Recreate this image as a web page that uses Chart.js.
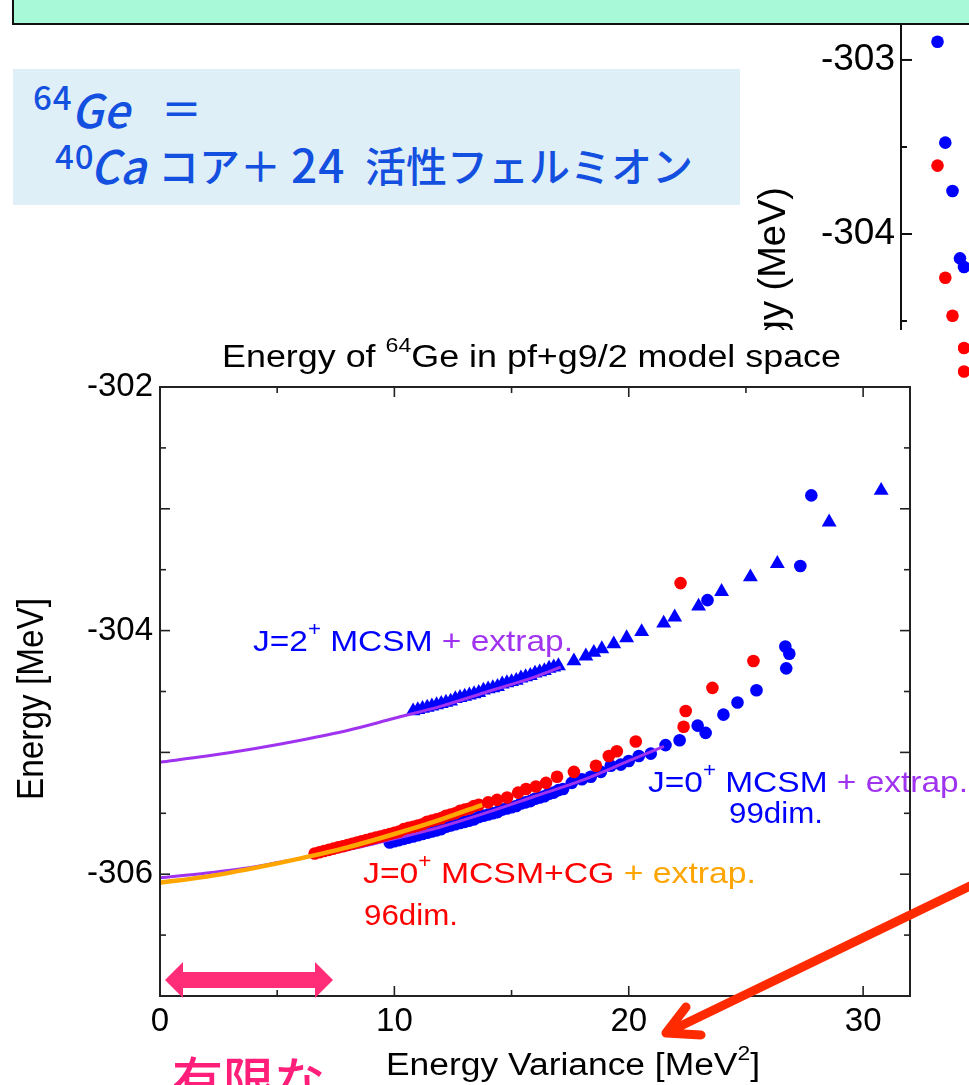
<!DOCTYPE html>
<html lang="ja">
<head>
<meta charset="utf-8">
<title>Energy of 64Ge in pf+g9/2 model space</title>
<script src="https://cdn.jsdelivr.net/npm/chart.js@4.4.1/dist/chart.umd.min.js"></script>
<style>
  html, body { margin: 0; padding: 0; width: 969px; height: 1085px; overflow: hidden; background: #fff; }
  #page { position: relative; width: 969px; height: 1085px; overflow: hidden; background: #fff; }
  #banner { position: absolute; left: 12px; top: -40px; width: 1000px; height: 61px;
            background: #a7f9d7; border: 2px solid #111; z-index: 5; }
  #note { position: absolute; left: 13px; top: 69px; width: 727px; height: 136px;
          background: #dfeff7; z-index: 4; }
  .nt { position: absolute; color: #1450e0; line-height: 1; white-space: nowrap; z-index: 6;
        font-family: 'Noto Sans CJK JP', 'Noto Sans', sans-serif; font-weight: 500; }
  .it { font-style: italic; }
  #bgChart { position: absolute; left: 740px; top: -40px; z-index: 1; }
  #mainChart { position: absolute; left: 0; top: 330px; z-index: 2; }
</style>
</head>
<body>
<div id="page">
  <div id="banner"></div>
  <div id="note"></div>
  <span class="nt" style="left:33px; top:80px; font-size:33px; letter-spacing:1px;">64</span>
  <span class="nt it" style="left:71px; top:85px; font-size:46px;">Ge</span>
  <span class="nt" style="left:161px; top:87px; font-size:41px;">＝</span>
  <span class="nt" style="left:55px; top:139px; font-size:33px; letter-spacing:1px;">40</span>
  <span class="nt it" style="left:90px; top:141px; font-size:46px;">Ca</span>
  <span class="nt" style="left:158px; top:144px; font-size:41px;">コア＋</span>
  <span class="nt" style="left:291px; top:140px; font-size:46px; letter-spacing:1px;">24</span>
  <span class="nt" style="left:365px; top:144px; font-size:41px;">活性フェルミオン</span>
  <canvas id="bgChart" width="260" height="700"></canvas>
  <canvas id="mainChart" width="969" height="755"></canvas>
</div>
<script>
// ---------- data: 64Ge energies vs. energy variance ----------
// J=2+ MCSM (triangles): [variance MeV^2, energy MeV]
const j2Mcsm = [
  [10.8,-304.66],[11.0,-304.65],[11.2,-304.64],[11.4,-304.63],[11.6,-304.62],[11.8,-304.61],
  [12.0,-304.60],[12.2,-304.59],[12.4,-304.58],[12.6,-304.56],[12.8,-304.55],[13.0,-304.54],
  [13.2,-304.53],[13.4,-304.52],[13.6,-304.51],[13.8,-304.49],[14.0,-304.48],[14.2,-304.47],
  [14.4,-304.46],[14.6,-304.44],[14.8,-304.43],[15.0,-304.42],[15.2,-304.41],[15.4,-304.39],
  [15.6,-304.38],[15.8,-304.37],[16.0,-304.35],[16.2,-304.34],[16.4,-304.33],[16.6,-304.31],
  [16.8,-304.30],[17.0,-304.29],[17.66,-304.25],[18.17,-304.21],[18.51,-304.18],[18.85,-304.15],
  [19.36,-304.11],[19.91,-304.06],[20.55,-304.01],[21.49,-303.94],[21.96,-303.89],[22.98,-303.80],
  [23.96,-303.68],[25.19,-303.56],[26.34,-303.45],[28.55,-303.11],[30.77,-302.85]
];
// J=2+ MCSM runs drawn with circles
const j2McsmRuns = [[23.36,-303.75],[27.32,-303.47],[27.79,-302.89]];
// J=0+ MCSM, 99 dim.
const j0Mcsm = [
  [9.8,-305.74],[10.0,-305.73],[10.2,-305.72],[10.4,-305.71],[10.6,-305.70],[10.8,-305.69],
  [11.0,-305.68],[11.2,-305.67],[11.4,-305.66],[11.6,-305.65],[11.8,-305.64],[12.0,-305.63],
  [12.2,-305.61],[12.4,-305.60],[12.6,-305.59],[12.8,-305.58],[13.0,-305.57],[13.2,-305.56],
  [13.4,-305.55],[13.6,-305.53],[13.8,-305.52],[14.0,-305.51],[14.2,-305.50],[14.4,-305.49],
  [14.6,-305.47],[14.8,-305.46],[15.0,-305.45],[15.2,-305.44],[15.4,-305.42],[15.6,-305.41],
  [15.8,-305.40],[16.0,-305.38],[16.2,-305.37],[16.4,-305.36],[16.6,-305.34],[16.8,-305.33],
  [17.0,-305.31],[17.2,-305.30],[17.57,-305.25],[18.0,-305.22],[18.38,-305.20],[18.81,-305.16],
  [19.23,-305.11],[19.66,-305.10],[20.0,-305.07],[20.43,-305.03],[20.94,-305.01],[21.57,-304.94],
  [22.17,-304.90],[22.94,-304.78],[23.28,-304.84],[24.04,-304.69],[24.64,-304.59],[25.45,-304.49],
  [26.72,-304.31],[26.68,-304.13],[26.85,-304.19]
];
// J=0+ MCSM+CG, 96 dim.
const j0McsmCg = [
  [6.6,-305.83],[6.8,-305.82],[7.0,-305.81],[7.2,-305.80],[7.4,-305.79],[7.6,-305.78],
  [7.8,-305.77],[8.0,-305.76],[8.2,-305.75],[8.4,-305.74],[8.6,-305.73],[8.8,-305.72],
  [9.0,-305.71],[9.2,-305.70],[9.4,-305.69],[9.6,-305.68],[9.8,-305.67],[10.0,-305.66],
  [10.2,-305.65],[10.4,-305.63],[10.6,-305.62],[10.8,-305.61],[11.0,-305.60],[11.2,-305.59],
  [11.4,-305.57],[11.6,-305.56],[11.8,-305.55],[12.0,-305.54],[12.2,-305.52],[12.4,-305.51],
  [12.6,-305.50],[12.8,-305.48],[13.0,-305.47],[13.2,-305.46],[13.4,-305.44],[13.6,-305.43],
  [14.0,-305.41],[14.38,-305.39],[14.81,-305.37],[15.28,-305.33],[15.62,-305.30],[16.04,-305.28],
  [16.47,-305.25],[16.94,-305.20],[17.66,-305.16],[18.60,-305.11],[19.15,-305.03],[19.49,-304.99],
  [20.30,-304.91],[22.34,-304.79],[22.43,-304.66],[23.57,-304.47],[25.32,-304.25],[22.21,-303.61]
];
// extrapolation curves towards zero variance
const j2Extrap = [[0,-305.08],[2,-305.03],[4,-304.97],[6,-304.90],[8,-304.82],[10,-304.72],
                  [12,-304.62],[14,-304.50],[16,-304.38],[17.1,-304.30]];
const j0Extrap = [[0,-306.03],[2,-305.99],[4,-305.94],[6,-305.87],[8,-305.80],[10,-305.71],
                  [12,-305.61],[14,-305.49],[16,-305.36],[18,-305.23],[20,-305.07],[21.5,-304.95]];
const cgExtrap = [[0,-306.07],[2,-306.02],[4,-305.95],[6,-305.87],[8,-305.78],[10,-305.67],
                  [12,-305.55],[13.75,-305.43]];
// second panel (partly hidden behind the main one)
const sideBlue = [[3.9,-302.895],[4.73,-303.475],[5.5,-303.753],[6.3,-304.14],[6.73,-304.19]];
const sideRed  = [[3.9,-303.607],[4.73,-304.251],[5.5,-304.47],[6.73,-304.655],[6.73,-304.79]];
// axis ticks
const xTickStep = 5, xLabelEvery = 10;
const yTickStep = 0.5, yLabelEvery = 2;

// ---------- styling ----------
const FONT = "'Liberation Sans', Arial, Helvetica, sans-serif";
const BLUE = '#0000ff', RED = '#ff0000', PURPLE = '#a033f0', ORANGE = '#ffa500';
const DOT = 6.3, TRI = 8.6;
const toXY = arr => arr.map(([x, y]) => ({ x, y }));

// draws a run of coloured text pieces (with optional superscripts), fitted to a width
function drawRuns(ctx, runs, x, y, o) {
  const base = o.size + 'px ' + FONT;
  const sup = Math.round(o.size * 0.65) + 'px ' + FONT;
  let natural = 0;
  runs.forEach(r => { ctx.font = r.sup ? sup : base; natural += ctx.measureText(r.t).width; });
  const sx = o.width ? o.width / natural : 1;
  ctx.save();
  ctx.translate(x, y);
  if (o.rotate) ctx.rotate(o.rotate);
  ctx.scale(sx, o.sy || 1);
  ctx.textAlign = 'left';
  ctx.textBaseline = 'alphabetic';
  let cx = 0;
  runs.forEach(r => {
    ctx.font = r.sup ? sup : base;
    ctx.fillStyle = r.c || '#000';
    ctx.fillText(r.t, cx, r.sup ? -o.size * 0.5 : 0);
    cx += ctx.measureText(r.t).width;
  });
  ctx.restore();
}

function isMultiple(v, step) {
  const q = v / step;
  return Math.abs(q - Math.round(q)) < 1e-6;
}

// ---------- side panel ----------
const sideAxis = {
  id: 'sideAxis',
  afterDatasetsDraw(chart) {
    const { ctx, chartArea: a, scales: { y } } = chart;
    ctx.save();
    ctx.strokeStyle = '#111';
    ctx.lineWidth = 2;
    ctx.beginPath(); ctx.moveTo(a.left, a.top); ctx.lineTo(a.left, a.bottom); ctx.stroke();
    y.ticks.forEach(t => {
      const py = y.getPixelForValue(t.value);
      const len = isMultiple(t.value, 1) ? 11 : 6;
      ctx.beginPath(); ctx.moveTo(a.left, py); ctx.lineTo(a.left + len, py); ctx.stroke();
    });
    ctx.fillStyle = '#000';
    ctx.font = '38px ' + FONT;
    ctx.translate(45, 227);
    ctx.rotate(-Math.PI / 2);
    ctx.textAlign = 'right';
    ctx.textBaseline = 'alphabetic';
    ctx.fillText('Energy (MeV)', 0, 0);
    ctx.restore();
  }
};

new Chart(document.getElementById('bgChart'), {
  type: 'scatter',
  data: {
    datasets: [
      { data: toXY(sideBlue), backgroundColor: BLUE, borderWidth: 0, pointRadius: DOT },
      { data: toXY(sideRed), backgroundColor: RED, borderWidth: 0, pointRadius: DOT }
    ]
  },
  options: {
    responsive: false, animation: false, devicePixelRatio: 1,
    layout: { padding: { top: 30, bottom: 40, left: 0, right: 0 } },
    plugins: { legend: { display: false }, tooltip: { enabled: false } },
    scales: {
      x: { display: false, min: 0, max: 9.9 },
      y: {
        min: -306.218, max: -302.598,
        grid: { display: false, drawTicks: false }, border: { display: false },
        ticks: {
          stepSize: yTickStep, includeBounds: false, padding: 6, color: '#000',
          font: { family: FONT, size: 37 },
          callback: v => isMultiple(v, 1) ? String(v) : ''
        },
        afterFit: s => { s.width = 161; }
      }
    }
  },
  plugins: [sideAxis]
});

// ---------- main chart ----------
const whiteSheet = {
  id: 'whiteSheet',
  beforeDraw(chart) {
    const ctx = chart.ctx;
    ctx.save();
    ctx.fillStyle = '#fff';
    ctx.fillRect(0, 0, 958, chart.height);
    ctx.restore();
  }
};

const OY = 330; // canvas offset on the page
const labels = {
  id: 'labels',
  afterDatasetsDraw(chart) {
    const ctx = chart.ctx;
    drawRuns(ctx, [{ t: 'Energy of ' }, { t: '64', sup: true }, { t: 'Ge in pf+g9/2 model space' }],
      222, 367 - OY, { size: 31, width: 619 });
    drawRuns(ctx, [{ t: 'Energy Variance [MeV' }, { t: '2', sup: true }, { t: ']' }],
      386, 1075 - OY, { size: 31, width: 374 });
    drawRuns(ctx, [{ t: 'Energy [MeV]' }], 43, 800 - OY,
      { size: 33, width: 202, sy: 1.1, rotate: -Math.PI / 2 });

    drawRuns(ctx, [{ t: 'J=2', c: BLUE }, { t: '+', c: BLUE, sup: true }, { t: ' MCSM', c: BLUE },
                   { t: ' + extrap.', c: PURPLE }], 253, 651 - OY, { size: 30, width: 320 });
    drawRuns(ctx, [{ t: 'J=0', c: BLUE }, { t: '+', c: BLUE, sup: true }, { t: ' MCSM', c: BLUE },
                   { t: ' + extrap.', c: PURPLE }], 648, 792 - OY, { size: 30, width: 320 });
    drawRuns(ctx, [{ t: '99dim.', c: BLUE }], 729, 823 - OY, { size: 30, width: 94 });
    drawRuns(ctx, [{ t: 'J=0', c: RED }, { t: '+', c: RED, sup: true }, { t: ' MCSM+CG', c: RED },
                   { t: ' + extrap.', c: ORANGE }], 363, 883 - OY, { size: 30, width: 393 });
    drawRuns(ctx, [{ t: '96dim.', c: RED }], 364, 925 - OY, { size: 30, width: 94 });
  }
};

const frame = {
  id: 'frame',
  afterDatasetsDraw(chart) {
    const { ctx, chartArea: a, scales: { x, y } } = chart;
    const seg = (x1, y1, x2, y2) => { ctx.beginPath(); ctx.moveTo(x1, y1); ctx.lineTo(x2, y2); ctx.stroke(); };
    ctx.save();
    ctx.strokeStyle = '#222';
    ctx.lineWidth = 2;
    ctx.strokeRect(a.left, a.top, a.right - a.left, a.bottom - a.top);
    ctx.lineWidth = 1.6;
    x.ticks.forEach(t => {
      if (!isMultiple(t.value, xTickStep)) return;
      const px = x.getPixelForValue(t.value);
      const len = isMultiple(t.value, xLabelEvery) ? 10 : 6;
      seg(px, a.bottom, px, a.bottom - len);
      seg(px, a.top, px, a.top + len);
    });
    y.ticks.forEach(t => {
      if (!isMultiple(t.value, yTickStep)) return;
      const py = y.getPixelForValue(t.value);
      const len = isMultiple(t.value, 1) ? 10 : 6;
      seg(a.left, py, a.left + len, py);
      seg(a.right, py, a.right - len, py);
    });
    ctx.restore();
  }
};

const callouts = {
  id: 'callouts',
  afterDraw(chart) {
    const ctx = chart.ctx;
    ctx.save();
    // range arrow near zero variance
    ctx.fillStyle = '#ff2d78';
    const p = [[165,980],[183,962],[183,972],[315,972],[315,962],[333,980],
               [315,998],[315,988],[183,988],[183,998]];
    ctx.beginPath();
    p.forEach(([px, py], i) => i ? ctx.lineTo(px, py - OY) : ctx.moveTo(px, py - OY));
    ctx.closePath();
    ctx.fill();
    // pointer arrow
    ctx.strokeStyle = '#ff2a00';
    ctx.lineWidth = 9;
    ctx.lineCap = 'round';
    ctx.lineJoin = 'round';
    ctx.beginPath();
    ctx.moveTo(995, 874 - OY); ctx.lineTo(666, 1033 - OY);
    ctx.moveTo(686, 1007 - OY); ctx.lineTo(666, 1033 - OY); ctx.lineTo(701, 1035 - OY);
    ctx.stroke();
    // caption (continues below the page)
    ctx.fillStyle = '#ff1f7a';
    ctx.font = "500 51px 'Noto Sans CJK JP', sans-serif";
    ctx.textBaseline = 'alphabetic';
    ctx.fillText('有限な', 172, 1100 - OY);
    ctx.restore();
  }
};

const scatterSet = (data, color, order, style, r) => ({
  data: toXY(data), backgroundColor: color, borderColor: color, borderWidth: 0,
  pointStyle: style || 'circle', pointRadius: r || DOT, pointHoverRadius: r || DOT, order
});
const curveSet = (data, color, width, order) => ({
  data: toXY(data), showLine: true, fill: false, borderColor: color, borderWidth: width,
  pointRadius: 0, pointHoverRadius: 0, cubicInterpolationMode: 'monotone', order
});

new Chart(document.getElementById('mainChart'), {
  type: 'scatter',
  data: {
    datasets: [
      curveSet(cgExtrap, ORANGE, 4.5, 1),
      scatterSet(j0McsmCg, RED, 2),
      curveSet(j0Extrap, PURPLE, 3, 3),
      scatterSet(j0Mcsm, BLUE, 4),
      curveSet(j2Extrap, PURPLE, 3, 5),
      scatterSet(j2Mcsm, BLUE, 6, 'triangle', TRI),
      scatterSet(j2McsmRuns, BLUE, 7)
    ]
  },
  options: {
    responsive: false, animation: false, devicePixelRatio: 1,
    layout: { padding: { top: 57, right: 59, left: 0, bottom: 0 } },
    plugins: { legend: { display: false }, tooltip: { enabled: false } },
    scales: {
      x: {
        type: 'linear', min: 0, max: 32,
        grid: { display: false, drawTicks: false }, border: { display: false },
        ticks: {
          stepSize: xTickStep, includeBounds: false, autoSkip: false, maxRotation: 0,
          padding: 6, color: '#000', font: { family: FONT, size: 33 },
          callback: v => isMultiple(v, xLabelEvery) ? String(v) : ''
        },
        afterFit: s => { s.height = 89; }
      },
      y: {
        min: -307, max: -302,
        grid: { display: false, drawTicks: false }, border: { display: false },
        ticks: {
          stepSize: yTickStep, includeBounds: false, padding: 7, color: '#000',
          font: { family: FONT, size: 33 },
          callback: v => isMultiple(v, yLabelEvery) ? String(Math.round(v)) : ''
        },
        afterFit: s => { s.width = 160; }
      }
    }
  },
  plugins: [whiteSheet, labels, frame, callouts]
});
</script>
</body>
</html>
